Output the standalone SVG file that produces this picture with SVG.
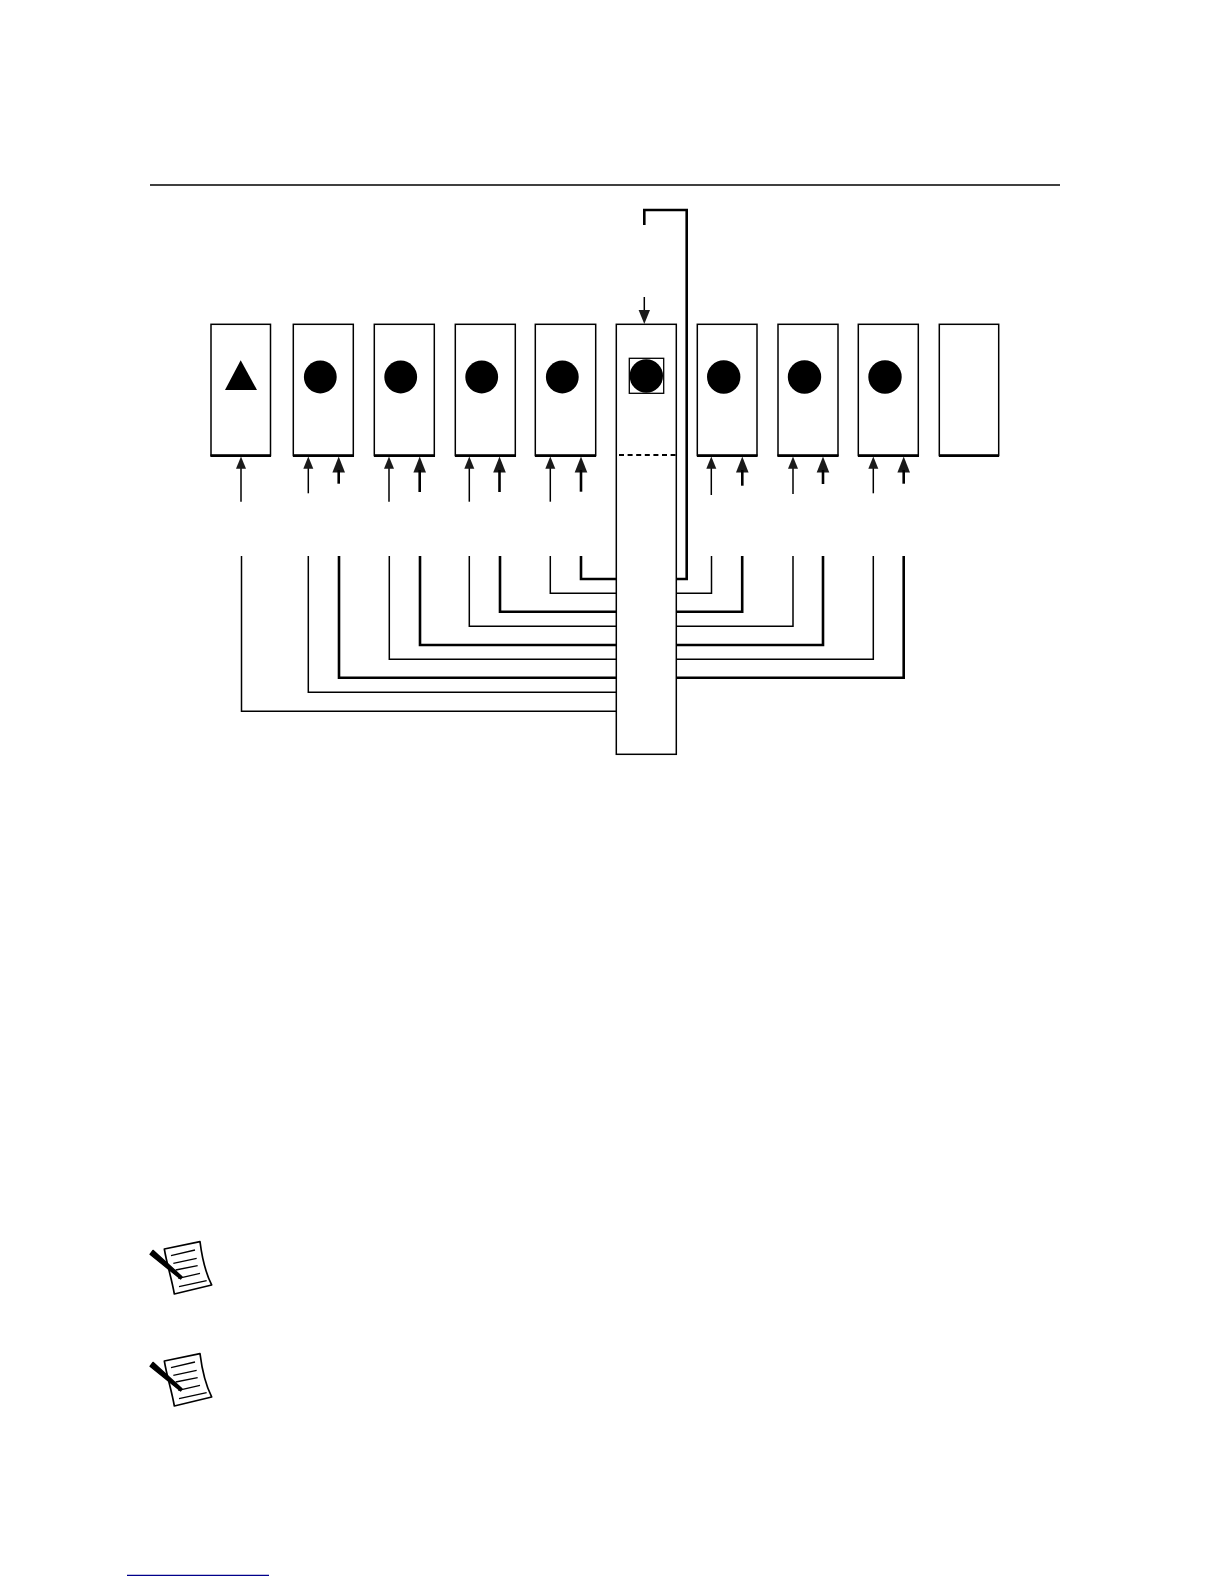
<svg xmlns="http://www.w3.org/2000/svg" width="1224" height="1584" viewBox="0 0 1224 1584">
<style>
.box{fill:#fff;stroke:#000;stroke-width:1.5}
.base{stroke:#000;stroke-width:2.6;fill:none}
.thin{fill:none;stroke:#000;stroke-width:1.5}
.thick{fill:none;stroke:#000;stroke-width:2.6}
.tip{fill:#1a1a1a;stroke:none}
</style>
<defs>
<g id="note">
<path d="M58 42L165 20C170 60 180 110 200 150L88 177C80 130 66 90 58 42Z" fill="#fff" stroke="#000" stroke-width="5" stroke-linejoin="round"/>
<path d="M78 62L150 45M85 85L155 70M92 105L158 92M100 130L165 115M102 155L185 137" fill="none" stroke="#000" stroke-width="4"/>
<path d="M15 58L24 46L111 125L107 132Z" fill="#000" stroke="#000" stroke-width="4" stroke-linejoin="round"/>
</g>
</defs>
<rect width="1224" height="1584" fill="#fff"/>
<path id="rule" d="M150 185H1060" stroke="#000" stroke-width="1.3"/>

<g id="connectors">
<g class="thin">
<path d="M241.5 556V711.3H616.3"/>
<path d="M308.3 556V692.3H616.3"/>
<path d="M389.3 556V659.3H616.3"/>
<path d="M469.3 556V626.3H616.3"/>
<path d="M550.3 556V593.3H616.3"/>
<path d="M711.5 556V593.3H676.3"/>
<path d="M793 556V626.3H676.3"/>
<path d="M873.3 556V659.3H676.3"/>
</g>
<g class="thick">
<path d="M339 556V677.7H616.3"/>
<path d="M420 556V645H616.3"/>
<path d="M500 556V611.7H616.3"/>
<path d="M581 556V579H616.3"/>
<path d="M644.3 225V210H686.7V579H676.3"/>
<path d="M742.2 556V611.7H676.3"/>
<path d="M823 556V645H676.3"/>
<path d="M903.7 556V677.7H676.3"/>
</g>
<g class="thin">
<path d="M241 501.7V465"/>
<path d="M308.3 493.3V465"/>
<path d="M389 501.7V465"/>
<path d="M469.3 501.7V465"/>
<path d="M550.3 501.7V465"/>
<path d="M711.3 495V465"/>
<path d="M793 494V465"/>
<path d="M873.3 493.3V465"/>
<path d="M644.3 297V315"/>
</g>
<g class="tip">
<path d="M241 456.5l5 12.3h-10Z"/>
<path d="M308.3 456.5l5 12.3h-10Z"/>
<path d="M389 456.5l5 12.3h-10Z"/>
<path d="M469.3 456.5l5 12.3h-10Z"/>
<path d="M550.3 456.5l5 12.3h-10Z"/>
<path d="M711.3 456.5l5 12.3h-10Z"/>
<path d="M793 456.5l5 12.3h-10Z"/>
<path d="M873.3 456.5l5 12.3h-10Z"/>
<path d="M644.3 324l-5.7 -14h11.4Z"/>
<path d="M338.7 456.5l6.3 16h-12.6Z"/>
<path d="M419.7 456.5l6.3 16h-12.6Z"/>
<path d="M499.5 456.5l6.3 16h-12.6Z"/>
<path d="M581 456.5l6.3 16h-12.6Z"/>
<path d="M742.3 456.5l6.3 16h-12.6Z"/>
<path d="M823 456.5l6.3 16h-12.6Z"/>
<path d="M903.7 456.5l6.3 16h-12.6Z"/>
</g>
<g class="thick">
<path d="M338.7 483.7V470"/>
<path d="M419.7 492V470"/>
<path d="M499.5 492V470"/>
<path d="M581 491.7V470"/>
<path d="M742.3 485.7V470"/>
<path d="M823 484V470"/>
<path d="M903.7 483.7V470"/>
</g>
</g>

<g id="node1"><rect class="box" x="211" y="324.3" width="59.5" height="131.3"/><path class="base" d="M210.5 455.6H271"/><path d="M240.7 360.3L257 390H225Z" fill="#000"/></g>
<g id="node2"><rect class="box" x="293.3" y="324.3" width="60" height="131.3"/><path class="base" d="M293 455.6H354"/><circle cx="320.3" cy="377" r="16.4"/></g>
<g id="node3"><rect class="box" x="374.3" y="324.3" width="60" height="131.3"/><path class="base" d="M374 455.6H435"/><circle cx="400.7" cy="377" r="16.4"/></g>
<g id="node4"><rect class="box" x="455.3" y="324.3" width="60" height="131.3"/><path class="base" d="M455 455.6H516"/><circle cx="481.7" cy="377" r="16.4"/></g>
<g id="node5"><rect class="box" x="535.3" y="324.3" width="60.4" height="131.3"/><path class="base" d="M535 455.6H596"/><circle cx="562.3" cy="377" r="16.4"/></g>
<g id="node6"><rect class="box" x="616.3" y="324.3" width="60" height="430"/><path d="M619 455H676" fill="none" stroke="#000" stroke-width="2" stroke-dasharray="5 3.6"/><circle cx="646.3" cy="376" r="16.7"/><rect x="629.3" y="358.3" width="34.4" height="35" fill="none" stroke="#000" stroke-width="1.3"/></g>
<g id="node7"><rect class="box" x="697.3" y="324.3" width="59.7" height="131.3"/><path class="base" d="M697 455.6H757.5"/><circle cx="723.7" cy="377" r="16.7"/></g>
<g id="node8"><rect class="box" x="778" y="324.3" width="60" height="131.3"/><path class="base" d="M777.5 455.6H838.5"/><circle cx="804.5" cy="377" r="16.7"/></g>
<g id="node9"><rect class="box" x="858.3" y="324.3" width="60" height="131.3"/><path class="base" d="M858 455.6H919"/><circle cx="885" cy="377" r="16.7"/></g>
<g id="node10"><rect class="box" x="939.3" y="324.3" width="59.4" height="131.3"/><path class="base" d="M939 455.6H999"/></g>

<g id="note1"><use href="#note" transform="translate(145 1235) scale(.3333)"/></g>
<g id="note2"><use href="#note" transform="translate(145 1347) scale(.3333)"/></g>
<path id="link" d="M127 1575.3H269" stroke="#00008b" stroke-width="1.3"/>
</svg>
